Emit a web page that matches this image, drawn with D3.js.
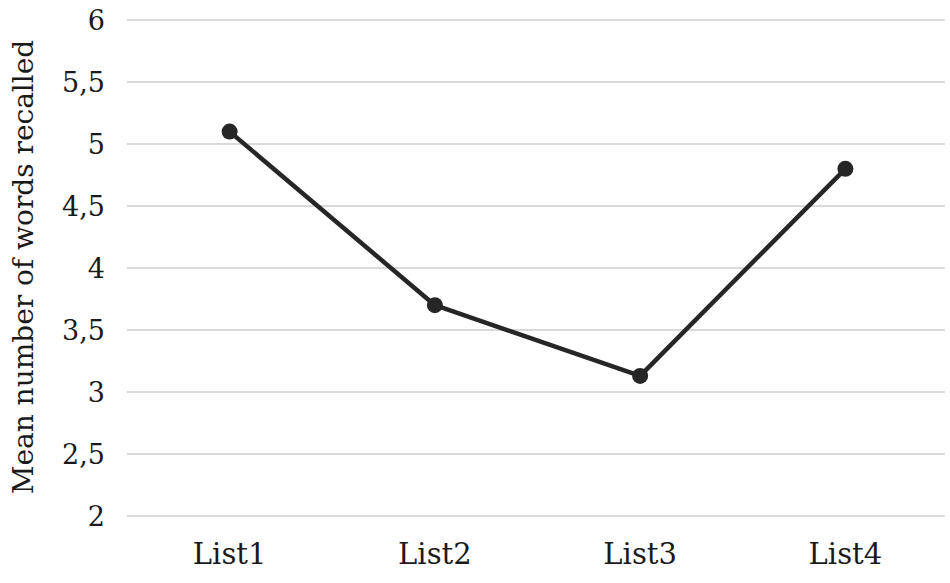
<!DOCTYPE html>
<html><head><meta charset="utf-8">
<script src="https://cdn.jsdelivr.net/npm/d3@7"></script>
<style>body{margin:0;background:#fff}svg{display:block}</style>
</head><body>
<script>
const categories = ["List1","List2","List3","List4"];
const values = [5.1, 3.7, 3.13, 4.8];
const yTicks = [2,2.5,3,3.5,4,4.5,5,5.5,6];
const yTitle = "Mean number of words recalled";

const FONT = "'DejaVu Serif', serif";
const W=950,H=583;
const svg=d3.select("body").append("svg").attr("width",W).attr("height",H);
const x=d3.scaleBand().domain(categories).range([127,948]);
const y=d3.scaleLinear().domain([2,6]).range([516,20]);
const fmt=d=>String(d).replace(".",",");

svg.append("g").selectAll("line").data(yTicks).join("line")
  .attr("x1",127).attr("x2",945).attr("y1",d=>y(d)).attr("y2",d=>y(d))
  .attr("stroke","#d9d9d9").attr("stroke-width",2);

svg.append("g").selectAll("text").data(yTicks).join("text")
  .attr("x",105).attr("y",d=>y(d)).attr("dy","0.36em").attr("text-anchor","end")
  .style("font-family",FONT).attr("fill","#1a1a1a")
  .attr("font-size",27).text(fmt);

svg.append("g").selectAll("text").data(categories).join("text")
  .attr("x",d=>x(d)+x.bandwidth()/2).attr("y",564).attr("text-anchor","middle")
  .style("font-family",FONT).attr("fill","#1a1a1a")
  .attr("font-size",29).text(d=>d);

svg.append("text").attr("transform","translate(33,267) rotate(-90)")
  .style("font-family",FONT).attr("fill","#1a1a1a")
  .attr("text-anchor","middle").attr("font-size",28).text(yTitle);

const pts=categories.map((c,i)=>[x(c)+x.bandwidth()/2,y(values[i])]);
svg.append("path").attr("d",d3.line()(pts)).attr("fill","none")
  .attr("stroke","#262626").attr("stroke-width",4.5).attr("stroke-linejoin","round");
svg.append("g").selectAll("circle").data(pts).join("circle")
  .attr("cx",d=>d[0]).attr("cy",d=>d[1]).attr("r",8).attr("fill","#262626");
</script>
</body></html>
